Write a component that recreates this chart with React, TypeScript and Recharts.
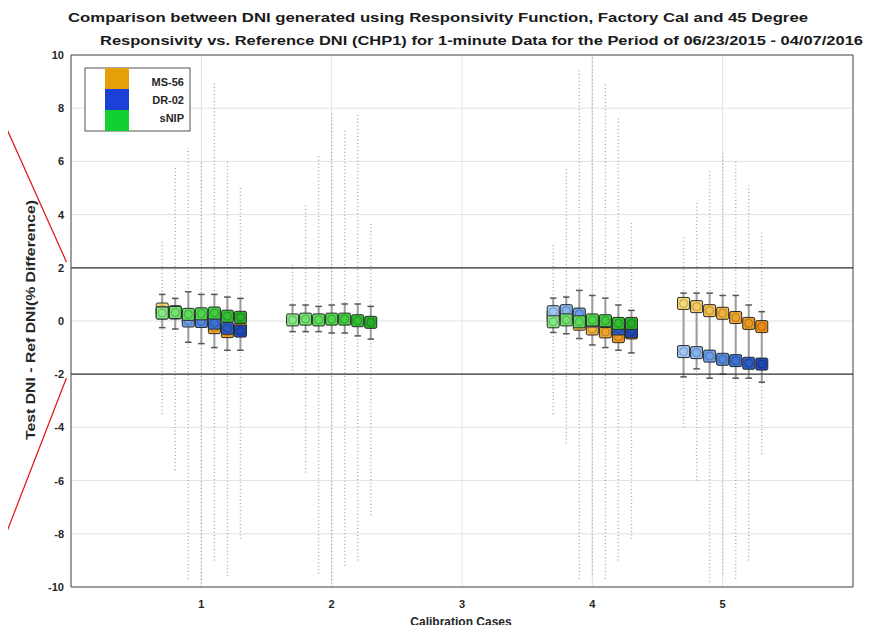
import React from 'react';
import {
  ComposedChart,
  XAxis,
  YAxis,
  CartesianGrid,
  Scatter,
  ReferenceLine,
} from 'recharts';

// calibration cases that hold data, and the 7 boxes per case
const cases = [1, 2, 4, 5];
const offsets = [-0.3, -0.2, -0.1, 0, 0.1, 0.2, 0.3];
const xTicks = [1, 2, 3, 4, 5];
const yTicks = [-10, -8, -6, -4, -2, 0, 2, 4, 6, 8, 10];

// medians per sensor and case (null = not shown)
const ms56Case1 = [0.45, 0.35, 0.15, 0.0, -0.25, -0.4, -0.3];
const ms56Case4 = [0.2, 0.2, -0.12, -0.3, -0.41, -0.59, -0.45];
const ms56Case5 = [0.66, 0.54, 0.39, 0.29, 0.13, -0.09, -0.21];

const dr02Case1 = [0.3, 0.3, 0.0, -0.02, -0.08, -0.27, -0.38];
const dr02Case4 = [0.35, 0.39, 0.26, 0.0, -0.02, -0.3, -0.4];
const dr02Case5 = [-1.15, -1.19, -1.32, -1.44, -1.49, -1.59, -1.62];

const snipCase1 = [0.3, 0.32, 0.25, 0.27, 0.3, 0.18, 0.14];
const snipCase2 = [0.04, 0.07, 0.04, 0.07, 0.07, 0.01, -0.05];
const snipCase4 = [-0.03, 0.04, -0.03, 0.04, 0.01, -0.09, -0.09];

// whisker ends per case
const case1WhiskerHi = [1.0, 0.85, 1.1, 1.0, 1.0, 0.9, 0.85];
const case1WhiskerLo = [-0.25, -0.3, -0.8, -0.85, -1.0, -1.1, -1.1];
const case2WhiskerHi = [0.6, 0.6, 0.55, 0.6, 0.64, 0.64, 0.55];
const case2WhiskerLo = [-0.4, -0.4, -0.4, -0.45, -0.45, -0.56, -0.68];
const case4WhiskerHi = [0.86, 0.9, 1.15, 0.96, 0.86, 0.6, 0.4];
const case4WhiskerLo = [-0.43, -0.48, -0.66, -0.9, -1.0, -1.1, -1.2];
const case5WhiskerHi = [1.05, 1.05, 1.05, 0.96, 0.96, 0.6, 0.35];
const case5WhiskerLo = [-2.1, -1.8, -2.15, -2.0, -2.15, -2.15, -2.3];

// outlier extremes per case
const case1OutlierHi = [3.0, 5.8, 6.5, 6.0, 9.0, 6.0, 5.0];
const case1OutlierLo = [-3.5, -5.6, -9.7, -10, -9.0, -9.6, -8.2];
const case2OutlierHi = [2.2, 4.4, 6.2, 7.8, 7.2, 7.8, 3.7];
const case2OutlierLo = [-2.0, -5.7, -9.5, -10, -9.2, -9.0, -7.3];
const case4OutlierHi = [2.9, 5.75, 9.5, 10, 8.9, 7.7, 3.7];
const case4OutlierLo = [-3.5, -4.6, -9.7, -9.5, -9.7, -9.0, -8.2];
const case5OutlierHi = [3.2, 4.5, 5.7, 6.4, 6.0, 5.1, 3.4];
const case5OutlierLo = [-4.0, -6.0, -9.8, -9.5, -9.7, -9.0, -5.0];

const sensors = ['MS-56', 'DR-02', 'sNIP'];
const ms56Medians = [ms56Case1, null, ms56Case4, ms56Case5];
const dr02Medians = [dr02Case1, null, dr02Case4, dr02Case5];
const snipMedians = [snipCase1, snipCase2, snipCase4, null];
const whiskerHi = [case1WhiskerHi, case2WhiskerHi, case4WhiskerHi, case5WhiskerHi];
const whiskerLo = [case1WhiskerLo, case2WhiskerLo, case4WhiskerLo, case5WhiskerLo];
const outlierHi = [case1OutlierHi, case2OutlierHi, case4OutlierHi, case5OutlierHi];
const outlierLo = [case1OutlierLo, case2OutlierLo, case4OutlierLo, case5OutlierLo];

// light -> dark shades along each case
const palettes = [
  ['#f6d978', '#f4cd63', '#f2c050', '#f0b33f', '#eea530', '#ec9822', '#ea8c15'],
  ['#a1c6f3', '#86b4ee', '#6c9fe7', '#5389dd', '#3c72d2', '#2c5cc4', '#1f48b3'],
  ['#86e886', '#72e26e', '#60dc5c', '#50d64c', '#42cc40', '#34be33', '#28ae28'],
];
const legendColors = ['#e6a10a', '#1b3fd9', '#12d032'];

const font = '"Liberation Sans", Arial, sans-serif';

function boxPoints(medians: (number[] | null)[], sensor: number) {
  return cases.flatMap((c, ci) =>
    (medians[ci] ?? []).map((y, pos) => ({ x: c + offsets[pos], y, pos, sensor }))
  );
}

const spreads = cases.flatMap((c, ci) =>
  offsets.map((o, pos) => ({
    x: c + o,
    wHi: whiskerHi[ci][pos],
    wLo: whiskerLo[ci][pos],
    oHi: outlierHi[ci][pos],
    oLo: outlierLo[ci][pos],
  }))
);

const series = [
  boxPoints(ms56Medians, 0),
  boxPoints(dr02Medians, 1),
  boxPoints(snipMedians, 2),
];

function BoxMarker(props: any) {
  const { cx, cy, payload } = props;
  if (cx == null || cy == null) return <g />;
  const color = palettes[payload.sensor][payload.pos];
  return (
    <g>
      <rect x={cx - 6} y={cy - 6} width={12} height={12} rx={1.5} fill={color} stroke="#2b2b2b" strokeWidth={1} />
      <circle cx={cx} cy={cy} r={4} fill={color} stroke="rgba(0,0,0,0.3)" strokeWidth={0.8} />
    </g>
  );
}

const cap = 0.025;

export default function App() {
  return (
    <div style={{ position: 'relative', margin: -8, width: 879, height: 633, background: '#fff' }}>
      <ComposedChart
        width={879}
        height={633}
        margin={{ top: 55, right: 26, left: 31, bottom: 16 }}
      >
        <CartesianGrid stroke="#e2e2e2" />
        <XAxis
          dataKey="x"
          type="number"
          domain={[0, 6]}
          ticks={xTicks}
          height={30}
          tickLine={false}
          tickSize={0}
          tickMargin={13}
          stroke="#4d4d4d"
          tick={{ fill: '#262626', fontSize: 11, fontWeight: 'bold', fontFamily: font }}
        />
        <YAxis
          dataKey="y"
          type="number"
          domain={[-10, 10]}
          ticks={yTicks}
          width={40}
          tickLine={false}
          tickSize={0}
          tickMargin={7}
          stroke="#4d4d4d"
          tick={{ fill: '#262626', fontSize: 11, fontWeight: 'bold', fontFamily: font }}
        />
        <ReferenceLine y={10} stroke="#4d4d4d" />
        <ReferenceLine x={6} stroke="#4d4d4d" />
        {spreads.map((s, i) => (
          <ReferenceLine
            key={`o${i}`}
            segment={[{ x: s.x, y: s.oLo }, { x: s.x, y: s.oHi }]}
            stroke="#b0b0b0"
            strokeWidth={1.5}
            strokeDasharray="1 2.5"
          />
        ))}
        {spreads.map((s, i) => (
          <ReferenceLine
            key={`w${i}`}
            segment={[{ x: s.x, y: s.wLo }, { x: s.x, y: s.wHi }]}
            stroke="#9c9c9c"
            strokeWidth={2}
          />
        ))}
        {spreads.map((s, i) => (
          <ReferenceLine
            key={`ch${i}`}
            segment={[{ x: s.x - cap, y: s.wHi }, { x: s.x + cap, y: s.wHi }]}
            stroke="#555"
            strokeWidth={1.5}
          />
        ))}
        {spreads.map((s, i) => (
          <ReferenceLine
            key={`cl${i}`}
            segment={[{ x: s.x - cap, y: s.wLo }, { x: s.x + cap, y: s.wLo }]}
            stroke="#555"
            strokeWidth={1.5}
          />
        ))}
        <ReferenceLine y={2} stroke="#333" strokeWidth={1.3} />
        <ReferenceLine y={-2} stroke="#333" strokeWidth={1.3} />
        {series.map((data, si) => (
          <Scatter
            key={sensors[si]}
            name={sensors[si]}
            data={data}
            dataKey="y"
            shape={(p: any) => <BoxMarker {...p} />}
            isAnimationActive={false}
          />
        ))}
        <ReferenceLine
          segment={[{ x: -0.54, y: 7.74 }, { x: -0.035, y: 2.22 }]}
          ifOverflow="visible"
          stroke="#e01010"
          strokeWidth={1.2}
        />
        <ReferenceLine
          segment={[{ x: -0.035, y: -2.14 }, { x: -0.54, y: -8.53 }]}
          ifOverflow="visible"
          stroke="#e01010"
          strokeWidth={1.2}
        />
      </ComposedChart>
      <svg
        width={879}
        height={633}
        style={{ position: 'absolute', left: 0, top: 0, pointerEvents: 'none' }}
        fontFamily={font}
        fontWeight="bold"
      >
        <text x={68} y={22} fontSize={13} fill="#1a1a1a" textLength={740} lengthAdjust="spacingAndGlyphs">
          Comparison between DNI generated using Responsivity Function, Factory Cal and 45 Degree
        </text>
        <text x={100} y={45} fontSize={13} fill="#1a1a1a" textLength={763} lengthAdjust="spacingAndGlyphs">
          Responsivity  vs. Reference DNI (CHP1) for 1-minute Data for the Period of 06/23/2015 - 04/07/2016
        </text>
        <text x={461} y={626} fontSize={12} fill="#262626" textAnchor="middle">
          Calibration Cases
        </text>
        <text
          transform="translate(35 320) rotate(-90)"
          fontSize={12}
          fill="#262626"
          textAnchor="middle"
          textLength={240}
          lengthAdjust="spacingAndGlyphs"
        >
          Test DNI  - Ref DNI(% Difference)
        </text>
        <rect x={85} y={68} width={105} height={63} fill="#fff" stroke="#555" strokeWidth={1} />
        {sensors.map((s, i) => (
          <g key={s}>
            <rect x={105} y={68 + i * 21} width={24} height={21} fill={legendColors[i]} />
            <text x={184} y={86 + i * 18} fontSize={11} fill="#262626" textAnchor="end">
              {s}
            </text>
          </g>
        ))}
      </svg>
    </div>
  );
}
